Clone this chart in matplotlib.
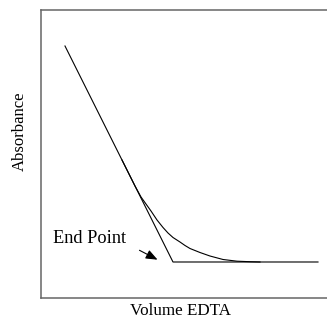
import matplotlib
matplotlib.use("Agg")
import matplotlib.pyplot as plt

# Extrapolated straight-line segments (data units)
line_x = [0.839, 4.615, 9.685]
line_y = [8.748, 1.235, 1.235]

# Actual curved titration curve
curve_x = [2.832, 3.287, 3.497, 3.671, 3.846, 4.056, 4.266, 4.441, 4.615, 4.860,
           5.035, 5.210, 5.559, 5.909, 6.364, 6.853, 7.308, 7.657]
curve_y = [4.783, 3.878, 3.496, 3.252, 3.009, 2.696, 2.435, 2.243, 2.087, 1.930,
           1.809, 1.704, 1.565, 1.443, 1.322, 1.263, 1.245, 1.235]

label_text = "End Point"
arrow_tail = (3.357, 1.687)
arrow_head = (4.161, 1.270)
label_pos = (0.42, 1.896)

plt.rcParams['font.family'] = ['Liberation Serif', 'DejaVu Serif']

fig = plt.figure(figsize=(3.27, 3.24), dpi=100)
ax = fig.add_axes([41/327, (324-297.5)/324, 286/327, 287.5/324])
ax.set_xlim(0, 10)
ax.set_ylim(0, 10)
ax.set_xticks([])
ax.set_yticks([])
for s in ['left', 'top', 'bottom']:
    ax.spines[s].set_color('#666666')
    ax.spines[s].set_linewidth(1.1)
ax.spines['right'].set_visible(False)

ax.plot(line_x, line_y, color='black', lw=0.8)
ax.plot(curve_x, curve_y, color='black', lw=0.8)

ax.text(label_pos[0], label_pos[1], label_text, fontsize=13.2, ha='left', va='baseline')
ax.annotate('', xy=arrow_head, xytext=arrow_tail,
            arrowprops=dict(arrowstyle='-|>,head_length=0.7,head_width=0.28', color='black', lw=0.8))

fig.text(20/327, 1 - 131/324, 'Absorbance', rotation=90, fontsize=12, ha='center', va='center')
fig.text(180/327, 1 - 311/324, 'Volume EDTA', fontsize=12.3, ha='center', va='center')

fig.savefig('out.png', dpi=100)
